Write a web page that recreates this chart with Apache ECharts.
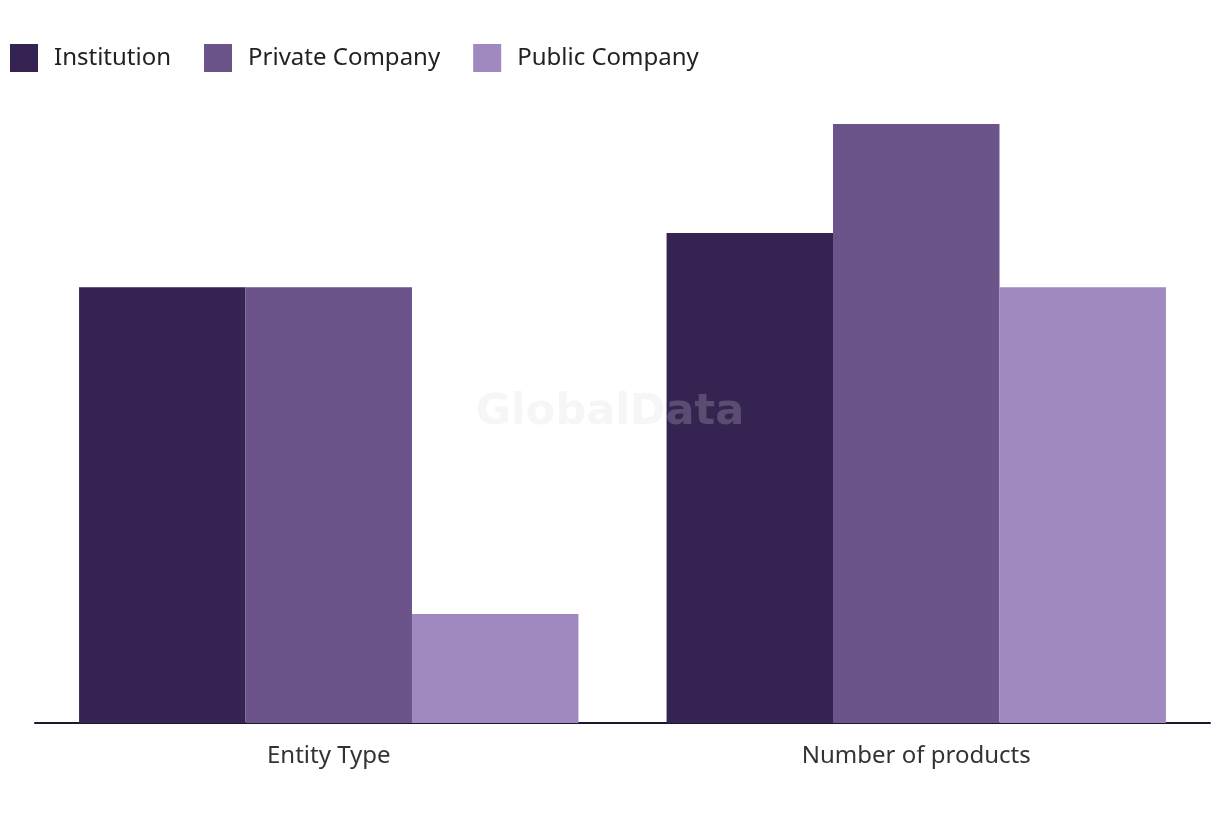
<!DOCTYPE html>
<html><head><meta charset="utf-8">
<script src="https://cdn.jsdelivr.net/npm/echarts@6/dist/echarts.min.js"></script>
<style>html,body{margin:0;padding:0;background:#fff}#c{width:1220px;height:820px}</style>
</head><body><div id="c"></div>
<script>
const categories = ['Entity Type', 'Number of products'];
const seriesNames = ['Institution', 'Private Company', 'Public Company'];
const institution = [8, 9];
const privateCompany = [8, 11];
const publicCompany = [2, 8];
const colors = ['#352452', '#6a5489', '#a088c0'];

const chart = echarts.init(document.getElementById('c'));
const dataSets = [institution, privateCompany, publicCompany];
chart.setOption({
  animation: false,
  color: colors,
  textStyle: { fontFamily: 'Noto Sans' },
  legend: {
    left: 10, top: 44, padding: 0, itemWidth: 28, itemHeight: 28, itemGap: 33,
    icon: 'rect',
    textStyle: { fontSize: 24, color: '#222', fontFamily: 'Noto Sans', padding: [0, 0, 0, 11] },
    data: seriesNames
  },
  grid: { left: 35, right: 10, top: 124, bottom: 97, containLabel: false },
  xAxis: {
    type: 'category', data: categories,
    axisLine: { lineStyle: { color: '#1a1a2e', width: 2 } },
    axisTick: { show: false },
    axisLabel: { fontSize: 24, color: '#333', margin: 21, fontFamily: 'Noto Sans' }
  },
  yAxis: { type: 'value', min: 0, max: 11, show: false, splitLine: { show: false } },
  series: dataSets.map((d, i) => ({
    name: seriesNames[i], type: 'bar', data: d,
    barGap: '0%', barCategoryGap: '15%'
  })),
  graphic: [{
    type: 'text', left: 'center', top: 391, z: 100,
    style: { text: 'GlobalData', font: 'bold 43px "DejaVu Sans"', fill: 'rgba(215,215,215,0.23)' }
  }]
});
</script></body></html>
